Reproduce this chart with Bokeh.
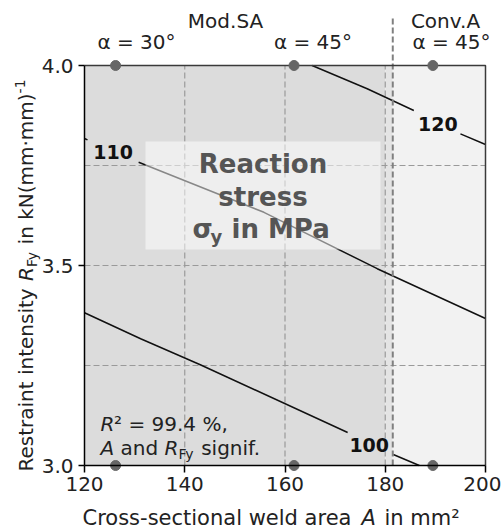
import math
from bokeh.plotting import figure
from bokeh.models import Range1d, FixedTicker, Label, LinearAxis, PrintfTickFormatter
from bokeh.embed import file_html
from bokeh.resources import INLINE

nan = float("nan")

# ---------------- data ----------------
area_ticks = [120, 140, 160, 180, 200]
rfy_ticks = [3.0, 3.5, 4.0]
grid_area = [140, 160, 180]
grid_rfy = [3.25, 3.5, 3.75]
process_boundary = 181.5
region_left = [120, 180, 181.5]
region_right = [180, 181.5, 200]
region_colors = ["#dcdcdc", "#e4e4e4", "#f2f2f2"]
design_area = [126.2, 161.8, 189.5]
design_rfy = [3.0, 4.0]

c100_area = [120, 131.2, 143.1, 172.5, nan, 181.6, 186.8]
c100_rfy = [3.382, 3.317, 3.252, 3.0825, nan, 3.0275, 3.0]
c110_area = [120, 120.6, nan, 130.8, 155.8, 178.4, 200]
c110_rfy = [3.8175, 3.814, nan, 3.758, 3.633, 3.492, 3.3675]
c120_area = [165.4, 176.4, 185.7, nan, 195.0, 200]
c120_rfy = [4.0, 3.942, 3.8875, nan, 3.829, 3.8025]
contour_levels = ["100", "110", "120"]
contour_label_area = [176.8, 125.7, 190.5]
contour_label_rfy = [3.035, 3.7675, 3.8375]

# ---------------- figure ----------------
FONT = "DejaVu Sans"
W, H = 501, 530
PX_X = 5.0125   # pixels per mm^2
PX_Y = 400.0    # pixels per unit of R_Fy
X0, Y0 = 84, 465  # pixel position of (120, 3.0)
MID = 0.346       # baseline -> box middle, in em

x_lo = area_ticks[0] - X0 / PX_X
x_hi = area_ticks[0] + (W - X0) / PX_X
y_lo = rfy_ticks[0] - (H - Y0) / PX_Y
y_hi = rfy_ticks[0] + Y0 / PX_Y

p = figure(width=W, height=H, output_backend="svg", toolbar_location=None,
           x_range=Range1d(x_lo, x_hi), y_range=Range1d(y_lo, y_hi),
           x_axis_location=None, y_axis_location=None,
           min_border_left=0, min_border_right=0, min_border_top=0, min_border_bottom=0)
p.outline_line_color = None
p.background_fill_color = "white"
p.border_fill_color = "white"
p.grid.visible = False

def X(px):
    return area_ticks[0] + (px - X0) / PX_X

def Y(py):
    return rfy_ticks[0] + (Y0 - py) / PX_Y

# regions
p.quad(left=region_left, right=region_right, bottom=rfy_ticks[0], top=rfy_ticks[-1],
       fill_color=region_colors, line_color=None)

# grid
p.segment(x0=grid_area, y0=[rfy_ticks[0]] * len(grid_area), x1=grid_area, y1=[rfy_ticks[-1]] * len(grid_area),
          line_color="#9a9a9a", line_width=1.2, line_dash="6 3")
p.segment(x0=[area_ticks[0]] * len(grid_rfy), y0=grid_rfy, x1=[area_ticks[-1]] * len(grid_rfy), y1=grid_rfy,
          line_color="#9a9a9a", line_width=1.2, line_dash="6 3")

# contours
for xs, ys in [(c100_area, c100_rfy), (c110_area, c110_rfy), (c120_area, c120_rfy)]:
    p.line(xs, ys, line_color="#111111", line_width=1.5)

# translucent box
p.quad(left=[X(145)], right=[X(380)], bottom=[Y(249)], top=[Y(141)],
       fill_color="white", fill_alpha=0.5, line_color=None)

# boundary between processes
p.segment(x0=[process_boundary], y0=[rfy_ticks[0]], x1=[process_boundary], y1=[Y(18)],
          line_color="#808080", line_width=2, line_dash="6 3")

# frame borders (top, right)
p.line([area_ticks[0], area_ticks[-1], area_ticks[-1]], [rfy_ticks[-1], rfy_ticks[-1], rfy_ticks[0]],
       line_color="#3a3a3a", line_width=1.5)

# design points
px_, py_ = [], []
for r in design_rfy:
    for a in design_area:
        px_.append(a)
        py_.append(r)
p.scatter(px_, py_, size=10, color="#666666")

# axes
xa = LinearAxis(fixed_location=rfy_ticks[0], ticker=FixedTicker(ticks=area_ticks),
                bounds=(area_ticks[0], area_ticks[-1]), formatter=PrintfTickFormatter(format="%d"))
xa.axis_line_width = 1.5
xa.major_tick_in = 0
xa.major_tick_out = 7
xa.major_tick_line_width = 1.5
xa.minor_tick_line_color = None
xa.major_label_standoff = 4
xa.major_label_text_font = FONT
xa.major_label_text_font_size = "20px"
xa.major_label_text_color = "#222222"
p.add_layout(xa, "below")

ya = LinearAxis(fixed_location=area_ticks[0], ticker=FixedTicker(ticks=rfy_ticks),
                bounds=(rfy_ticks[0], rfy_ticks[-1]), formatter=PrintfTickFormatter(format="%.1f"))
ya.axis_line_width = 1.5
ya.major_tick_in = 0
ya.major_tick_out = 6
ya.major_tick_line_width = 1.5
ya.minor_tick_line_color = None
ya.major_label_standoff = 5
ya.major_label_text_font = FONT
ya.major_label_text_font_size = "20px"
ya.major_label_text_color = "#222222"
p.add_layout(ya, "left")

def lab(x_px, base_py, text, size, style="normal", color="#222222", align="left"):
    """horizontal text; x_px start/centre, base_py = baseline in pixels"""
    p.add_layout(Label(x=X(x_px), y=Y(base_py - MID * size), text=text, text_font=FONT,
                       text_font_size=f"{size}px", text_font_style=style, text_color=color,
                       text_align=align, text_baseline="middle"))

def vlab(base_px, start_py, text, size, style="normal", color="#222222"):
    """text rotated 90 deg ccw; base_px = baseline x in pixels, start_py = start (bottom)"""
    p.add_layout(Label(x=X(base_px - MID * size), y=Y(start_py), text=text, text_font=FONT,
                       text_font_size=f"{size}px", text_font_style=style, text_color=color,
                       text_align="left", text_baseline="middle", angle=math.pi / 2))

# contour level labels
for t, a, r in zip(contour_levels, contour_label_area, contour_label_rfy):
    p.add_layout(Label(x=a, y=r + MID * 19 / PX_Y, text=t, text_font=FONT, text_font_size="19px",
                       text_font_style="bold", text_color="#111111", text_align="center",
                       text_baseline="middle"))

# box title
lab(262.5, 172.7, "Reaction", 26, "bold", "#555555", "center")
lab(262.5, 205, "stress", 26, "bold", "#555555", "center")
lab(192, 237.3, "σ", 26, "bold", "#555555")
lab(210, 242, "y", 18, "bold", "#555555")
lab(231, 237.3, "in MPa", 26, "bold", "#555555")

# fit annotation
lab(100, 430, "R", 20, "italic")
lab(113.5, 430, "² = 99.4 %,", 20)
lab(100, 454, "A", 20, "italic")
lab(120.1, 454, "and", 20)
lab(164.1, 454, "R", 20, "italic")
lab(178, 458, "Fy", 14)
lab(200.7, 454, "signif.", 20)

# top annotations
lab(225, 27, "Mod.SA", 20, align="center")
lab(136, 48, "α = 30°", 20, align="center")
lab(312.5, 48, "α = 45°", 20, align="center")
lab(445, 27, "Conv.A", 20, align="center")
lab(451, 48, "α = 45°", 20, align="center")

# x axis title
lab(82, 525, "Cross-sectional weld area", 21)
lab(361, 525, "A", 21, "italic")
lab(384, 525, "in mm²", 21)

# y axis title (rotated)
vlab(32.5, 471, "Restraint intensity", 20)
vlab(32.5, 280.5, "R", 20, "italic")
vlab(36.5, 266.6, "Fy", 14)
vlab(32.5, 243.9, "in kN(mm·mm)", 20)
vlab(24.5, 92.9, "-1", 14)

open("out.html", "w").write(file_html(p, INLINE))
